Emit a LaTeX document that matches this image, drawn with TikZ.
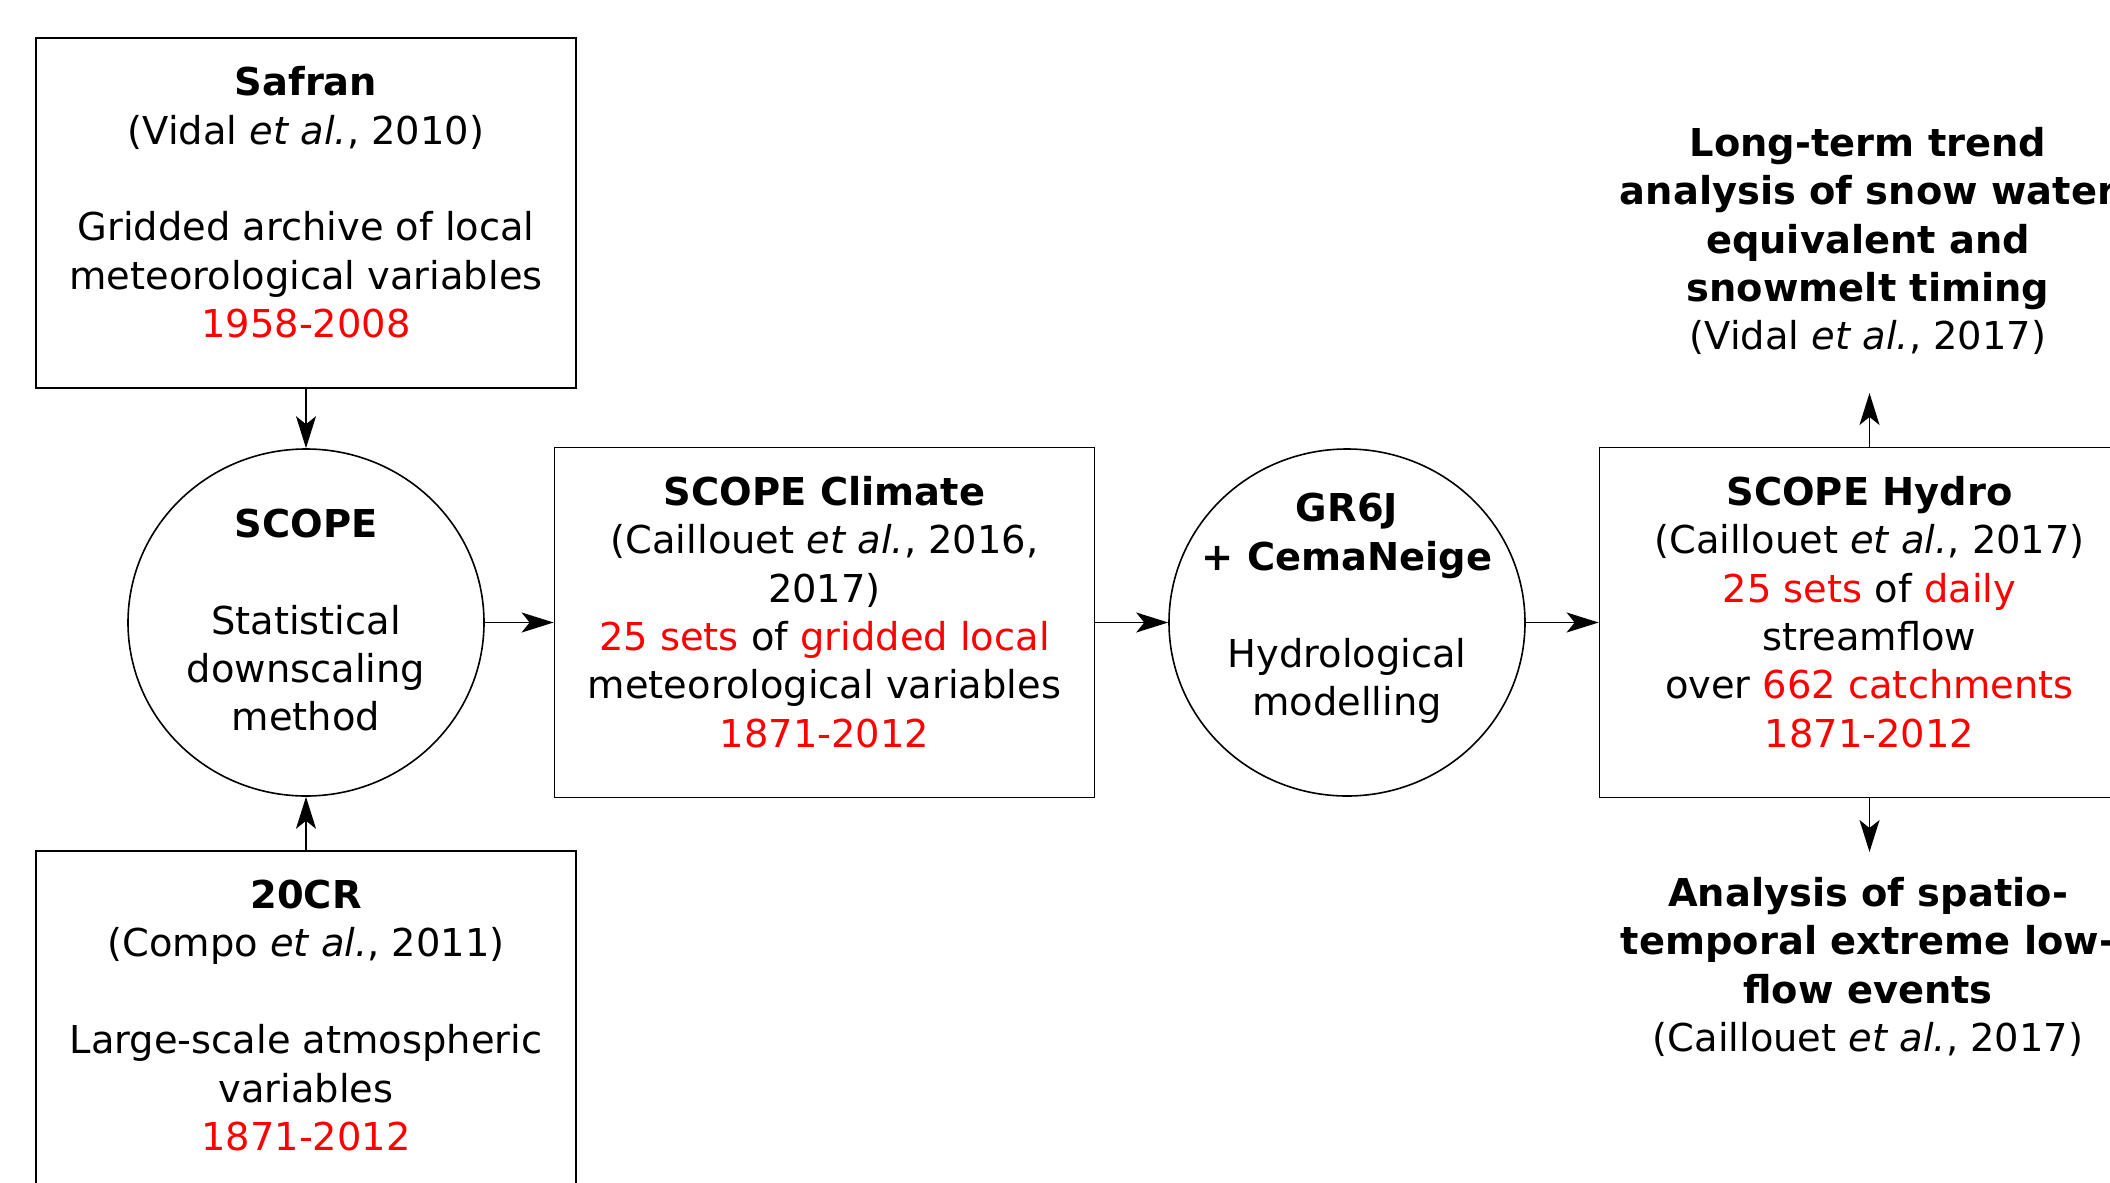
\documentclass[tikz,border=0pt]{standalone}
\usepackage{fontspec}
\setmainfont{DejaVu Sans}
\usetikzlibrary{arrows.meta,shapes.geometric}
\definecolor{hlred}{RGB}{255,0,0}
\newcommand{\hlr}[1]{\textcolor{hlred}{#1}}
\begin{document}
\begin{tikzpicture}[x=0.5pt,y=-0.5pt,
  font=\fontsize{19.2}{24.2}\selectfont,
  box/.style={draw, line width=0.9pt, minimum width=270pt, minimum height=175pt, align=center, inner sep=0pt, text depth=10.8pt},
  circ/.style={draw, ellipse, line width=0.8pt, minimum width=178pt, minimum height=173.5pt, align=center, inner sep=-45pt},
  res/.style={align=center, inner sep=0pt},
  arr/.style={-{Stealth[length=16pt,width=10pt,inset=4pt]}, line width=0.9pt}]
\useasboundingbox (0,0) rectangle (2110,1183);
\clip (0,0) rectangle (2110,1183);

\node[box] (safran) at (306,213) {\textbf{Safran}\\(Vidal \textit{et al.}, 2010)\\[24.2pt]Gridded archive of local\\meteorological variables\\\hlr{1958-2008}};
\node[circ, text depth=2.7pt] (scope) at (306,622.5) {\textbf{SCOPE}\\[24.2pt]Statistical\\downscaling\\method};
\node[box] (climate) at (824.5,622.5) {\textbf{SCOPE Climate}\\(Caillouet \textit{et al.}, 2016,\\2017)\\\hlr{25 sets} of \hlr{gridded local}\\meteorological variables\\\hlr{1871-2012}};
\node[circ, text depth=18pt] (gr) at (1347,622.5) {\textbf{GR6J}\\\textbf{+ CemaNeige}\\[24.2pt]Hydrological\\modelling};
\node[box] (hydro) at (1869.5,622.5) {\textbf{SCOPE Hydro}\\(Caillouet \textit{et al.}, 2017)\\\hlr{25 sets} of \hlr{daily}\\streamflow\\over \hlr{662 catchments}\\\hlr{1871-2012}};
\node[box] (cr) at (306,1026) {\textbf{20CR}\\(Compo \textit{et al.}, 2011)\\[24.2pt]Large-scale atmospheric\\variables\\\hlr{1871-2012}};
\node[res] (trend) at (1868,241) {\textbf{Long-term trend}\\\textbf{analysis of snow water}\\\textbf{equivalent and}\\\textbf{snowmelt timing}\\(Vidal \textit{et al.}, 2017)};
\node[res] (lowflow) at (1868,967) {\textbf{Analysis of spatio-}\\\textbf{temporal extreme low-}\\\textbf{flow events}\\(Caillouet \textit{et al.}, 2017)};

\coordinate (uptip) at (1869.5,393);
\coordinate (dntip) at (1869.5,852);

\draw[arr] (safran) -- (scope);
\draw[arr] (cr) -- (scope);
\draw[arr] (scope) -- (climate);
\draw[arr] (climate) -- (gr);
\draw[arr] (gr) -- (hydro);
\draw[arr] (hydro.north) -- (uptip);
\draw[arr] (hydro.south) -- (dntip);
\end{tikzpicture}
\end{document}
